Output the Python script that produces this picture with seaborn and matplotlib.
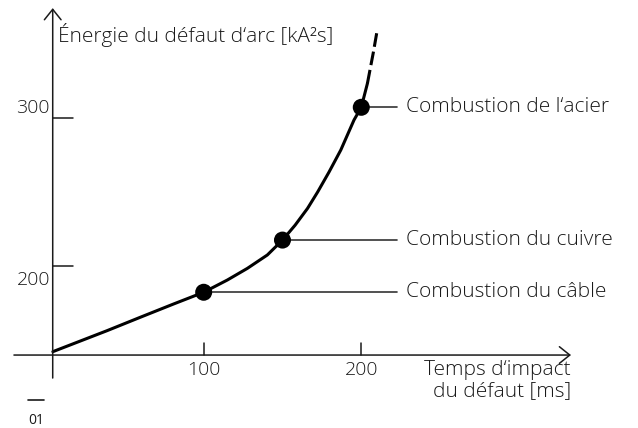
import matplotlib
matplotlib.use("Agg")
import matplotlib.pyplot as plt
from matplotlib.lines import Line2D
import pandas as pd
import seaborn as sns

sns.set_theme(style="white")
plt.rcParams['font.family'] = ['Open Sans', 'DejaVu Sans']

# curve (time in ms, energy in kA2s)
curve_t = [4.3, 38.6, 59.7, 80.8, 100, 115.0, 127.7, 140.4, 150, 158.0, 165.9, 172.3, 179.5, 187.0, 195.4, 200, 203.9]
curve_e = [141.7, 155.9, 165.0, 174.0, 182, 190.3, 198.2, 207.3, 217.4, 227.5, 238.9, 250.0, 263.5, 278.5, 298.9, 307.5, 323.7]
extra_t = [203.9, 207.7, 209.8]
extra_e = [323.7, 345.0, 357.9]

events_t = [100, 150, 200]
events_e = [182, 217.4, 307.5]
events_lbl = ["Combustion du câble", "Combustion du cuivre", "Combustion de l‘acier"]

xticks = [100, 200]
yticks = [200, 300]
ylabel_dy = [-10, 7.5]

ink = "#1a1a1a"
line = "#333333"
fs = 15      # labels
fs_num = 14  # tick numbers

fig = plt.figure(figsize=(6.38, 4.28), dpi=100)
ax = fig.add_axes([0, 0, 1, 1])
ax.set_xlim(-29.25, 375.6)
ax.set_ylim(89.9, 380.3)
ax.axis("off")

# axes with open arrow heads
x0, y0 = 4.2, 139.4
arrow = dict(arrowstyle="->,head_length=0.75,head_width=0.6", color=ink, lw=1.1,
             shrinkA=0, shrinkB=0, mutation_scale=10)
ax.annotate("", xy=(x0, 374.8), xytext=(x0, 123.8), arrowprops=arrow)
ax.annotate("", xy=(333.1, y0), xytext=(-20.4, y0), arrowprops=arrow)

for t in xticks:
    ax.plot([t, t], [y0, y0 + 8.4], color=ink, lw=1.1)
    ax.annotate(str(t), xy=(t, y0), xytext=(0, -11), textcoords="offset points",
                ha="center", va="center", fontsize=fs_num, color=ink, fontweight="light")
for e, dy in zip(yticks, ylabel_dy):
    ax.plot([x0, x0 + 12.7], [e, e], color=ink, lw=1.1)
    ax.annotate(str(e), xy=(x0, e), xytext=(-2, dy), textcoords="offset points",
                ha="right", va="center", fontsize=fs_num, color=ink, fontweight="light")

# leader lines and labels
for t, e, lbl in zip(events_t, events_e, events_lbl):
    ax.plot([t, 222.7], [e, e], color=line, lw=1.2)
    ax.text(228.4, e, lbl, ha="left", va="center", fontsize=fs, color=ink, fontweight="light")

df = pd.DataFrame({"t": curve_t, "e": curve_e})
sns.lineplot(data=df, x="t", y="e", sort=False, estimator=None, color="black", lw=2.2, ax=ax)
ax.plot(extra_t, extra_e, color="black", lw=2.2, linestyle=(0, (4.5, 1.6)))
sns.scatterplot(x=events_t, y=events_e, s=150, color="black", edgecolor="none", zorder=5, ax=ax)

fig.text(58 / 638, 1 - 35 / 428, "Énergie du défaut d‘arc [kA²s]", ha="left", va="center",
         fontsize=fs, color=ink, fontweight="light")
fig.text(571 / 638, 1 - 370 / 428, "Temps d‘impact", ha="right", va="center", fontsize=fs,
         color=ink, fontweight="light")
fig.text(571 / 638, 1 - 391 / 428, "du défaut [ms]", ha="right", va="center", fontsize=fs,
         color=ink, fontweight="light")
fig.add_artist(Line2D([28 / 638, 44 / 638], [1 - 400 / 428, 1 - 400 / 428], color=ink, lw=1.2))
fig.text(28 / 638, 1 - 420 / 428, "01", ha="left", va="center", fontsize=10, color=ink)

fig.savefig("out.png", dpi=100)
